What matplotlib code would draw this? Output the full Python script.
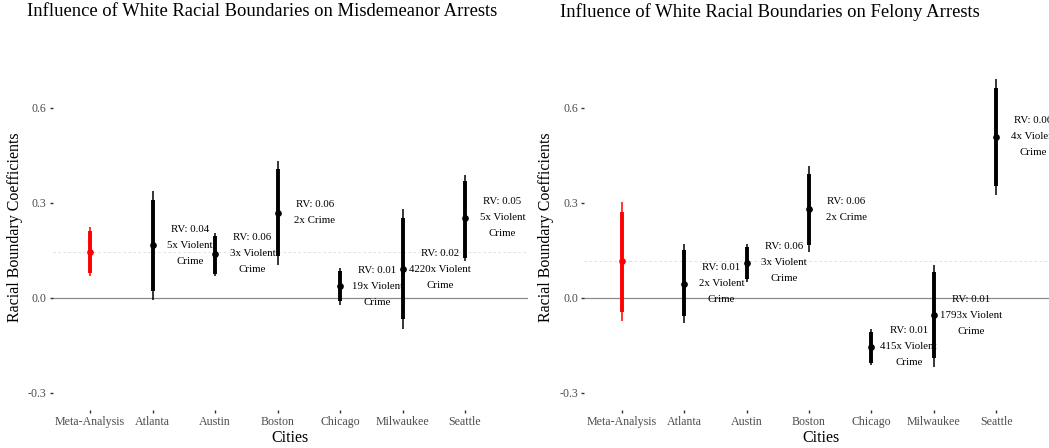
import matplotlib
matplotlib.use("Agg")
import matplotlib.pyplot as plt

plt.rcParams['font.family'] = ['Liberation Serif', 'DejaVu Serif']

# ---- data ----
cities = ["Meta-Analysis", "Atlanta", "Austin", "Boston", "Chicago",
          "Milwaukee", "Seattle"]

misd_est = [0.144, 0.165, 0.138, 0.268, 0.036, 0.090, 0.252]
misd_lo95 = [0.067, -0.006, 0.067, 0.104, -0.022, -0.098, 0.115]
misd_hi95 = [0.222, 0.336, 0.204, 0.433, 0.094, 0.280, 0.388]
misd_lo90 = [0.078, 0.022, 0.076, 0.130, -0.012, -0.069, 0.126]
misd_hi90 = [0.209, 0.307, 0.196, 0.406, 0.083, 0.252, 0.367]
misd_labels = ["", "RV: 0.04\n5x Violent\nCrime", "RV: 0.06\n3x Violent\nCrime",
               "RV: 0.06\n2x Crime", "RV: 0.01\n19x Violent\nCrime",
               "RV: 0.02\n4220x Violent\nCrime", "RV: 0.05\n5x Violent\nCrime"]

fel_est = [0.115, 0.044, 0.110, 0.279, -0.155, -0.056, 0.509]
fel_lo95 = [-0.073, -0.079, 0.049, 0.144, -0.213, -0.218, 0.324]
fel_hi95 = [0.301, 0.170, 0.170, 0.415, -0.100, 0.104, 0.692]
fel_lo90 = [-0.045, -0.058, 0.060, 0.165, -0.205, -0.192, 0.354]
fel_hi90 = [0.272, 0.149, 0.160, 0.392, -0.110, 0.081, 0.663]
fel_labels = ["", "RV: 0.01\n2x Violent\nCrime", "RV: 0.06\n3x Violent\nCrime",
              "RV: 0.06\n2x Crime", "RV: 0.01\n415x Violent\nCrime",
              "RV: 0.01\n1793x Violent\nCrime", "RV: 0.06\n4x Violent\nCrime"]

yticks = [-0.3, 0.0, 0.3, 0.6]

W, H = 1049, 448
fig = plt.figure(figsize=(W / 100, H / 100), dpi=100)


def px_axes(x0, y0, w, h):
    # pixel box (from top-left) -> figure fraction
    return fig.add_axes([x0 / W, 1 - (y0 + h) / H, w / W, h / H])


def panel(ax, est, lo95, hi95, lo90, hi90, labels, ylab_px):
    xs = list(range(1, len(cities) + 1))
    ax.axhline(0, color='#8c8c8c', lw=0.9, zorder=1)
    ax.axhline(est[0], color='#d9d9d9', lw=0.6, ls=(0, (3, 3)), zorder=1)
    for i, x in enumerate(xs):
        c = 'red' if i == 0 else 'black'
        ax.vlines(x, lo95[i], hi95[i], color=c, lw=1.1, zorder=3)
        ax.vlines(x, lo90[i], hi90[i], color=c, lw=2.8, zorder=3)
        ax.plot(x, est[i], 'o', color=c, ms=3.8, zorder=4)
        if labels[i]:
            ax.text(x + 0.6, est[i], labels[i], ha='center', va='center',
                    fontsize=7.8, linespacing=2.0, zorder=2)
    ax.set_xlim(0.4, 8.0)
    ax.set_ylim(-0.355, 0.855)
    ax.set_xticks(xs)
    ax.set_xticklabels(cities, fontsize=8.6, color='#4d4d4d')
    ax.set_yticks(yticks)
    ax.set_yticklabels([f"{t:.1f}" for t in yticks], fontsize=8.6,
                       color='#4d4d4d')
    ax.tick_params(length=2.5, width=1, color='#333333', pad=2)
    for s in ax.spines.values():
        s.set_visible(False)
    ax.set_xlabel("Cities", fontsize=11.5, labelpad=1)
    ax.set_ylabel("Racial Boundary Coefficients", fontsize=11.5)
    # ylabel right edge in pixels, centred a little below the panel middle
    l, b, w, h = ax.get_position().bounds
    ax.yaxis.set_label_coords((ylab_px / W - l) / w,
                              ((1 - 227 / H) - b) / h)


ax1 = px_axes(52.5, 27, 475, 383)
panel(ax1, misd_est, misd_lo95, misd_hi95, misd_lo90, misd_hi90,
      misd_labels, 23)
ax2 = px_axes(584.3, 27, 474.2, 383)
panel(ax2, fel_est, fel_lo95, fel_hi95, fel_lo90, fel_hi90, fel_labels, 554)

fig.text(262 / W, 1 - 12 / H,
         "Influence of White Racial Boundaries on Misdemeanor Arrests",
         ha='center', va='center', fontsize=13.4)
fig.text(769.5 / W, 1 - 12 / H,
         "Influence of White Racial Boundaries on Felony Arrests",
         ha='center', va='center', fontsize=13.4)

fig.savefig("out.png", dpi=100)
